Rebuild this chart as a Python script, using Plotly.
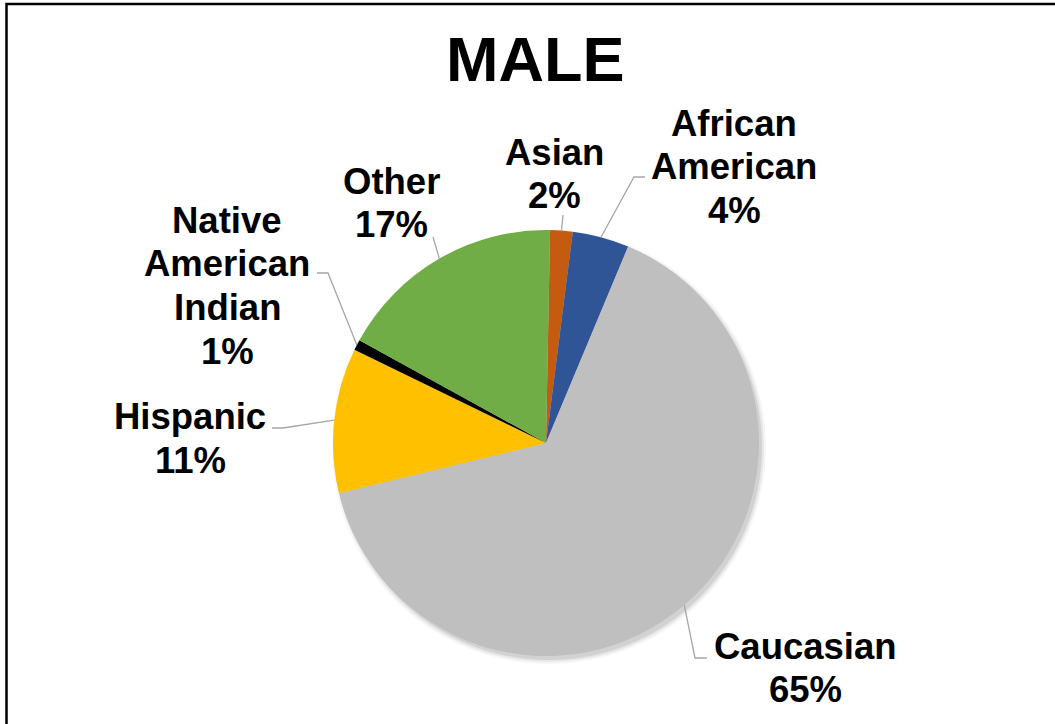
import math
import plotly.graph_objects as go

# ---- data ----
categories = ["Asian", "African American", "Caucasian", "Hispanic", "Native American Indian", "Other"]
values = [1.7, 4.3, 64.9, 11.0, 0.8, 17.3]
colors = ["#C55A11", "#2F5597", "#BFBFBF", "#FFC000", "#000000", "#70AD47"]
label_lines = [
    ["Asian"],
    ["African", "American"],
    ["Caucasian"],
    ["Hispanic"],
    ["Native", "American", "Indian"],
    ["Other"],
]
title_text = "MALE"

# ---- layout constants (pixels) ----
W, H = 1055, 724
CX, CY, R = 546, 443, 213
ROTATION = 1.1
FONT = "Liberation Sans, Arial, sans-serif"
LABEL_SIZE = 36.5
LINE_STEP = 43.8

# label centers (x, y of first line)
label_pos = [(554, 152), (734, 123), (805, 646), (190, 417), (227, 220), (391, 181)]
# label-side leader points
leader_pts = [
    [(563, 215)],
    [(645, 177), (634, 177)],
    [(707, 658), (695, 658)],
    [(272, 428), (283, 428)],
    [(317, 273), (328, 273)],
    [(433, 237)],
]


def px(x):
    return x / W


def py(y):
    return 1 - y / H


fig = go.Figure(go.Pie(
    labels=categories,
    values=values,
    marker=dict(colors=colors, line=dict(width=0)),
    sort=False,
    direction="clockwise",
    rotation=ROTATION,
    textinfo="none",
    hoverinfo="label+percent",
    showlegend=False,
    domain=dict(x=[px(CX - R), px(CX + R)], y=[py(CY + R), py(CY - R)]),
))

shapes = []
# chart border
shapes.append(dict(type="rect", xref="paper", yref="paper",
                   x0=px(6.5), y0=py(4), x1=px(1060), y1=py(730),
                   line=dict(color="black", width=2.5), fillcolor="rgba(0,0,0,0)"))
# soft shadow (offset toward bottom-right)
for dr, op in [(4, 0.035), (2, 0.06), (0, 0.09)]:
    shapes.append(dict(type="circle", xref="paper", yref="paper", layer="below",
                       x0=px(CX - R - dr + 3), x1=px(CX + R + dr + 3),
                       y0=py(CY + R + dr + 4), y1=py(CY - R - dr + 4),
                       line=dict(width=0), fillcolor=f"rgba(0,0,0,{op})"))

annotations = [dict(text=title_text, x=px(534.5), y=py(59), xref="paper", yref="paper",
                    showarrow=False, xanchor="center", yanchor="middle",
                    font=dict(family=FONT, size=63, color="black", weight="bold"))]

total = sum(values)
cum = 0.0
for i, v in enumerate(values):
    mid = math.radians(ROTATION + (cum + v / 2) / total * 360)
    cum += v
    ex = CX + R * math.sin(mid)
    ey = CY - R * math.cos(mid)
    pts = leader_pts[i] + [(ex, ey)]
    path = "M " + " L ".join(f"{px(x)},{py(y)}" for x, y in pts)
    shapes.append(dict(type="path", xref="paper", yref="paper", path=path,
                       line=dict(color="#A6A6A6", width=1.3)))
    lines = label_lines[i] + [f"{round(v / total * 100)}%"]
    lx, ly = label_pos[i]
    for k, t in enumerate(lines):
        annotations.append(dict(text=t, x=px(lx), y=py(ly + k * LINE_STEP),
                                xref="paper", yref="paper", showarrow=False,
                                xanchor="center", yanchor="middle",
                                font=dict(family=FONT, size=LABEL_SIZE, color="black", weight="bold")))

fig.update_layout(
    width=W, height=H,
    margin=dict(l=0, r=0, t=0, b=0),
    paper_bgcolor="white", plot_bgcolor="white",
    shapes=shapes, annotations=annotations,
)

fig.write_html(
    "out.html",
    config={"displayModeBar": False},
    post_script="document.body.style.margin='0';document.body.style.overflow='hidden';",
)
